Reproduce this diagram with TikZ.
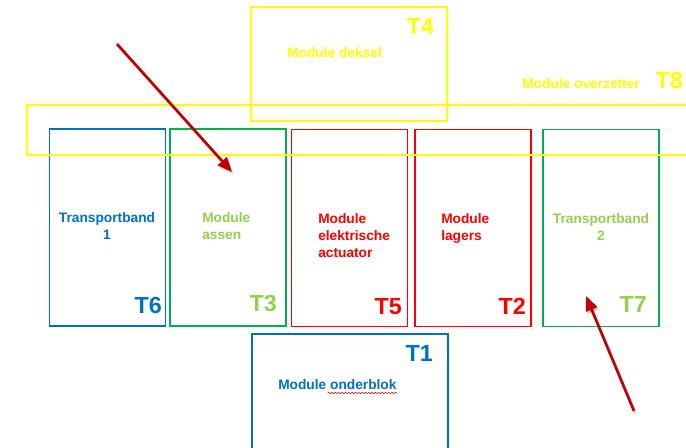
\documentclass[tikz,border=0pt]{standalone}
\usepackage{fontspec}
\setmainfont{Liberation Sans}
\usetikzlibrary{positioning, calc, arrows.meta, decorations.pathmorphing}
\definecolor{modBlue}{RGB}{0,112,192}
\definecolor{modGreen}{RGB}{0,176,80}
\definecolor{modLightGreen}{RGB}{146,208,80}
\definecolor{modRed}{RGB}{255,0,0}
\definecolor{modYellow}{RGB}{255,255,0}
\definecolor{modDarkRed}{RGB}{192,0,0}

\begin{document}
\begin{tikzpicture}[
        x=0.75pt, y=-0.75pt,
        tallbox/.style={draw, line width=1.2pt, minimum width=87pt, minimum height=147.75pt},
        widebox/.style={draw, line width=1.2pt, minimum width=147pt},
        modtext/.style={font=\fontsize{10.3}{12.75}\selectfont\bfseries, inner sep=0pt},
        tlabel/.style={font=\fontsize{17.5}{20}\selectfont\bfseries, inner sep=0pt},
        pointer/.style={-{Triangle[length=11pt, width=9pt]}, line width=2pt, modDarkRed},
        pointershadow/.style={pointer, black, opacity=0.15, transform canvas={shift={(1.2pt,-1.8pt)}}}
      ]
        \useasboundingbox (0,0) rectangle (686,448);

        % row of stations
        \node[tallbox, draw=modBlue] (t6) at (107.5,227.5) {};
        \node[tallbox, draw=modGreen] (t3) at (228,227.5) {};
        \node[tallbox, draw=modRed] (t5) at (349.5,228) {};
        \node[tallbox, draw=modRed] (t2) at (473,228) {};
        \node[tallbox, draw=modGreen] (t7) at (601,228) {};

        % top and bottom
        \node[widebox, draw=modYellow, minimum height=85.5pt] (t4) at (349,64) {};
        \node[widebox, draw=modBlue, minimum height=102pt] (t1) at (350,402) {};
        \node[draw=modYellow, line width=1.2pt, minimum width=512pt, minimum height=37.5pt] (t8) at (368.5,130) {};

        % texts
        \node[modtext, modBlue, align=center, anchor=north] (t6txt) at (107,212) {Transportband\\1};
        \node[modtext, modLightGreen, align=left, anchor=north west] (t3txt) at (202,212) {Module\\assen};
        \node[modtext, modRed, align=left, anchor=north west] (t5txt) at (318,213) {Module\\elektrische\\actuator};
        \node[modtext, modRed, align=left, anchor=north west] (t2txt) at (441,213) {Module\\lagers};
        \node[modtext, modLightGreen, align=center, anchor=north] (t7txt) at (601,213) {Transportband\\2};
        \node[modtext, modYellow, anchor=base west] (t4txt) at (287,58) {Module deksel};
        \node[modtext, modYellow, anchor=base west] (t8txt) at (522,89) {Module overzetter};
        \node[modtext, modBlue, anchor=base west] (t1txt) at (278,390) {Module onderblok};

        % station numbers
        \node[tlabel, modBlue, anchor=base east] (t6lab) at (162,314) {T6};
        \node[tlabel, modLightGreen, anchor=base east] (t3lab) at (277,312) {T3};
        \node[tlabel, modRed, anchor=base east] (t5lab) at (402,315) {T5};
        \node[tlabel, modRed, anchor=base east] (t2lab) at (526,315) {T2};
        \node[tlabel, modLightGreen, anchor=base east] (t7lab) at (647,313) {T7};
        \node[tlabel, modYellow, anchor=base east] (t4lab) at (434,35) {T4};
        \node[tlabel, modYellow, anchor=base east] (t8lab) at (683,89) {T8};
        \node[tlabel, modBlue, anchor=base east] (t1lab) at (433,362) {T1};

        % spelling mark
        \draw[modRed, line width=0.4pt, decorate, decoration={snake, amplitude=0.5pt, segment length=2.5pt}]
          ($(t1txt.base east)+(-69,3)$) -- ($(t1txt.base east)+(0,3)$);

        % pointers
        \coordinate (pA) at (117,44);
        \coordinate (pAend) at (232,172);
        \coordinate (pB) at (634,411);
        \coordinate (pBend) at (586,296);
        \draw[pointershadow] (pA) -- (pAend);
        \draw[pointershadow] (pB) -- (pBend);
        \draw[pointer] (pA) -- (pAend);
        \draw[pointer] (pB) -- (pBend);
      \end{tikzpicture}
\end{document}
